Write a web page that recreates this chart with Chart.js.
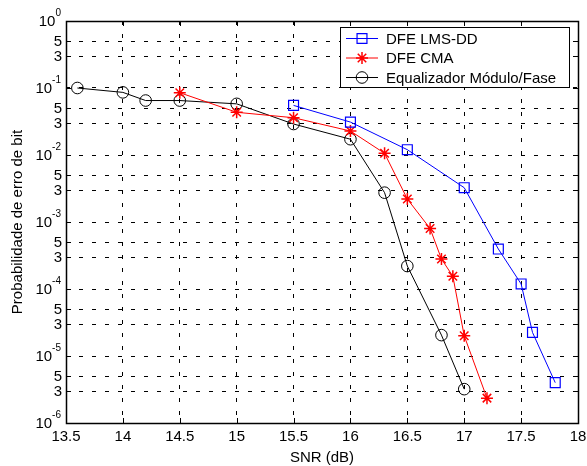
<!DOCTYPE html>
<html>
<head>
<meta charset="utf-8">
<script src="https://cdn.jsdelivr.net/npm/chart.js@4.4.1/dist/chart.umd.min.js"></script>
<style>
  html, body { margin: 0; padding: 0; background: #fff; }
  canvas { display: block; }
</style>
</head>
<body>
<canvas id="ber" width="587" height="466"></canvas>
<script>
// SNR (dB) and bit error probability for each equalizer
const snrLMS = [15.5, 16, 16.5, 17, 17.3, 17.5, 17.6, 17.8];
const berLMS = [0.055, 0.031, 0.012, 0.00325, 3.95e-4, 1.19e-4, 2.25e-5, 4.0e-6];

const snrCMA = [14.5, 15, 15.5, 16, 16.3, 16.5, 16.7, 16.8, 16.9, 17, 17.2];
const berCMA = [0.085, 0.0434, 0.036, 0.0228, 0.0106, 0.0022, 8.0e-4, 2.8e-4, 1.55e-4, 2.0e-5, 2.35e-6];

const snrModFase = [13.6, 14, 14.2, 14.5, 15, 15.5, 16, 16.3, 16.5, 16.8, 17];
const berModFase = [0.1, 0.086, 0.065, 0.065, 0.058, 0.029, 0.0172, 0.00274, 2.2e-4, 2.05e-5, 3.2e-6];

const seriesNames = ['DFE LMS-DD', 'DFE CMA', 'Equalizador Módulo/Fase'];

// y grid / tick values: decades plus 5 and 3 within each decade
const yTickValues = [1, 0.5, 0.3, 0.1, 0.05, 0.03, 0.01, 0.005, 0.003,
  1e-3, 5e-4, 3e-4, 1e-4, 5e-5, 3e-5, 1e-5, 5e-6, 3e-6, 1e-6];
const xTickValues = [13.5, 14, 14.5, 15, 15.5, 16, 16.5, 17, 17.5, 18];

const FONT = "'Liberation Sans', Arial, Helvetica, sans-serif";
Chart.defaults.font.family = FONT;
Chart.defaults.font.size = 15;
Chart.defaults.color = '#000';

const pts = (xs, ys) => xs.map((x, i) => ({ x: x, y: ys[i] }));

function drawMarker(ctx, style, x, y, r, color, lw) {
  ctx.save();
  ctx.strokeStyle = color;
  ctx.lineWidth = lw;
  ctx.beginPath();
  if (style === 'rect') {
    const s = r * Math.SQRT1_2;
    ctx.rect(x - s, y - s, 2 * s, 2 * s);
  } else if (style === 'circle') {
    ctx.arc(x, y, r, 0, Math.PI * 2);
  } else if (style === 'star') {
    const d = r * Math.SQRT1_2;
    ctx.moveTo(x - r, y); ctx.lineTo(x + r, y);
    ctx.moveTo(x, y - r); ctx.lineTo(x, y + r);
    ctx.moveTo(x - d, y - d); ctx.lineTo(x + d, y + d);
    ctx.moveTo(x - d, y + d); ctx.lineTo(x + d, y - d);
  }
  ctx.stroke();
  ctx.restore();
}

// Frame, inward ticks, y labels with exponents, and the boxed legend
const decorations = {
  id: 'decorations',
  afterDatasetsDraw(chart) {
    const ctx = chart.ctx;
    const a = chart.chartArea;
    const xs = chart.scales.x, ys = chart.scales.y;
    ctx.save();
    ctx.strokeStyle = '#000';
    ctx.lineWidth = 1;
    ctx.setLineDash([]);
    // inward tick marks
    ctx.beginPath();
    xTickValues.forEach(v => {
      const px = Math.round(xs.getPixelForValue(v)) + 0.5;
      ctx.moveTo(px, a.bottom); ctx.lineTo(px, a.bottom - 5);
      ctx.moveTo(px, a.top); ctx.lineTo(px, a.top + 5);
    });
    yTickValues.forEach(v => {
      const py = Math.round(ys.getPixelForValue(v)) + 0.5;
      ctx.moveTo(a.left, py); ctx.lineTo(a.left + 5, py);
      ctx.moveTo(a.right, py); ctx.lineTo(a.right - 5, py);
    });
    ctx.stroke();
    // frame
    ctx.lineWidth = 1.5;
    ctx.strokeRect(Math.round(a.left) + 0.5, Math.round(a.top) + 0.5,
      Math.round(a.right - a.left), Math.round(a.bottom - a.top));

    // y labels
    ctx.fillStyle = '#000';
    ctx.textBaseline = 'middle';
    const rightX = a.left - 5;
    yTickValues.forEach(v => {
      const py = ys.getPixelForValue(v);
      const e = Math.round(Math.log10(v));
      const m = v / Math.pow(10, Math.floor(Math.log10(v) + 1e-9));
      if (Math.abs(m - 1) < 1e-6) {
        const expText = String(e);
        ctx.font = '10px ' + FONT;
        const ew = ctx.measureText(expText).width;
        ctx.textAlign = 'left';
        ctx.fillText(expText, rightX - ew, py - 8);
        ctx.font = '15px ' + FONT;
        ctx.textAlign = 'right';
        ctx.fillText('10', rightX - ew, py + 1);
      } else {
        ctx.font = '15px ' + FONT;
        ctx.textAlign = 'right';
        ctx.fillText(String(Math.round(m)), rightX + 1, py + 1);
      }
    });

    // legend
    const lx = 340.5, ly = 27.5, lw = 229, lh = 60;
    ctx.fillStyle = '#fff';
    ctx.fillRect(lx, ly, lw, lh);
    ctx.lineWidth = 1;
    ctx.strokeStyle = '#000';
    ctx.strokeRect(lx, ly, lw, lh);
    const rowsY = [38.5, 58, 77.5];
    chart.data.datasets.forEach((ds, i) => {
      const y = rowsY[i];
      ctx.strokeStyle = ds.borderColor;
      ctx.lineWidth = 1;
      ctx.beginPath();
      ctx.moveTo(346, y); ctx.lineTo(378, y);
      ctx.stroke();
      drawMarker(ctx, ds.pointStyle, 362, y, ds.pointRadius, ds.pointBorderColor, ds.pointBorderWidth);
      ctx.fillStyle = '#000';
      ctx.font = '15px ' + FONT;
      ctx.textAlign = 'left';
      ctx.textBaseline = 'middle';
      ctx.fillText(ds.label, 386, y + 1);
    });
    ctx.restore();
  }
};

new Chart(document.getElementById('ber'), {
  type: 'line',
  data: {
    datasets: [
      {
        label: seriesNames[0], data: pts(snrLMS, berLMS),
        borderColor: '#0000ff', borderWidth: 1, pointStyle: 'rect',
        pointRadius: 7, pointBorderColor: '#0000ff', pointBorderWidth: 1.2,
        pointBackgroundColor: 'rgba(0,0,0,0)', tension: 0, fill: false
      },
      {
        label: seriesNames[1], data: pts(snrCMA, berCMA),
        borderColor: '#ff0000', borderWidth: 1, pointStyle: 'star',
        pointRadius: 6, pointBorderColor: '#ff0000', pointBorderWidth: 1.5,
        pointBackgroundColor: 'rgba(0,0,0,0)', tension: 0, fill: false
      },
      {
        label: seriesNames[2], data: pts(snrModFase, berModFase),
        borderColor: '#000000', borderWidth: 1, pointStyle: 'circle',
        pointRadius: 5.8, pointBorderColor: '#000000', pointBorderWidth: 1,
        pointBackgroundColor: 'rgba(0,0,0,0)', tension: 0, fill: false
      }
    ]
  },
  options: {
    responsive: false,
    animation: false,
    devicePixelRatio: 1,
    layout: { padding: { top: 21, right: 9, left: 0, bottom: 0 } },
    plugins: { legend: { display: false }, tooltip: { enabled: false } },
    scales: {
      x: {
        type: 'linear', min: 13.5, max: 18,
        afterBuildTicks: s => { s.ticks = xTickValues.map(v => ({ value: v })); },
        afterFit: s => { s.height = 43; s.paddingLeft = 0; s.paddingRight = 0; },
        ticks: { padding: 5, font: { size: 15 }, color: '#000',
          callback: v => String(v) },
        grid: { color: '#000', lineWidth: 1, drawTicks: false },
        border: { display: false, dash: [4, 9] },
        title: { display: true, text: 'SNR (dB)', font: { size: 15 }, color: '#000',
          padding: { top: 0, bottom: -1 } }
      },
      y: {
        type: 'logarithmic', min: 1e-6, max: 1,
        afterBuildTicks: s => { s.ticks = yTickValues.map(v => ({ value: v })); },
        afterFit: s => { s.width = 66; },
        ticks: { display: false },
        grid: { color: '#000', lineWidth: 1, drawTicks: false },
        border: { display: false, dash: [4, 9] },
        title: { display: true, text: 'Probabilidade de erro de bit', font: { size: 15 },
          color: '#000', padding: { top: 9, bottom: 0 } }
      }
    }
  },
  plugins: [decorations]
});
</script>
</body>
</html>
